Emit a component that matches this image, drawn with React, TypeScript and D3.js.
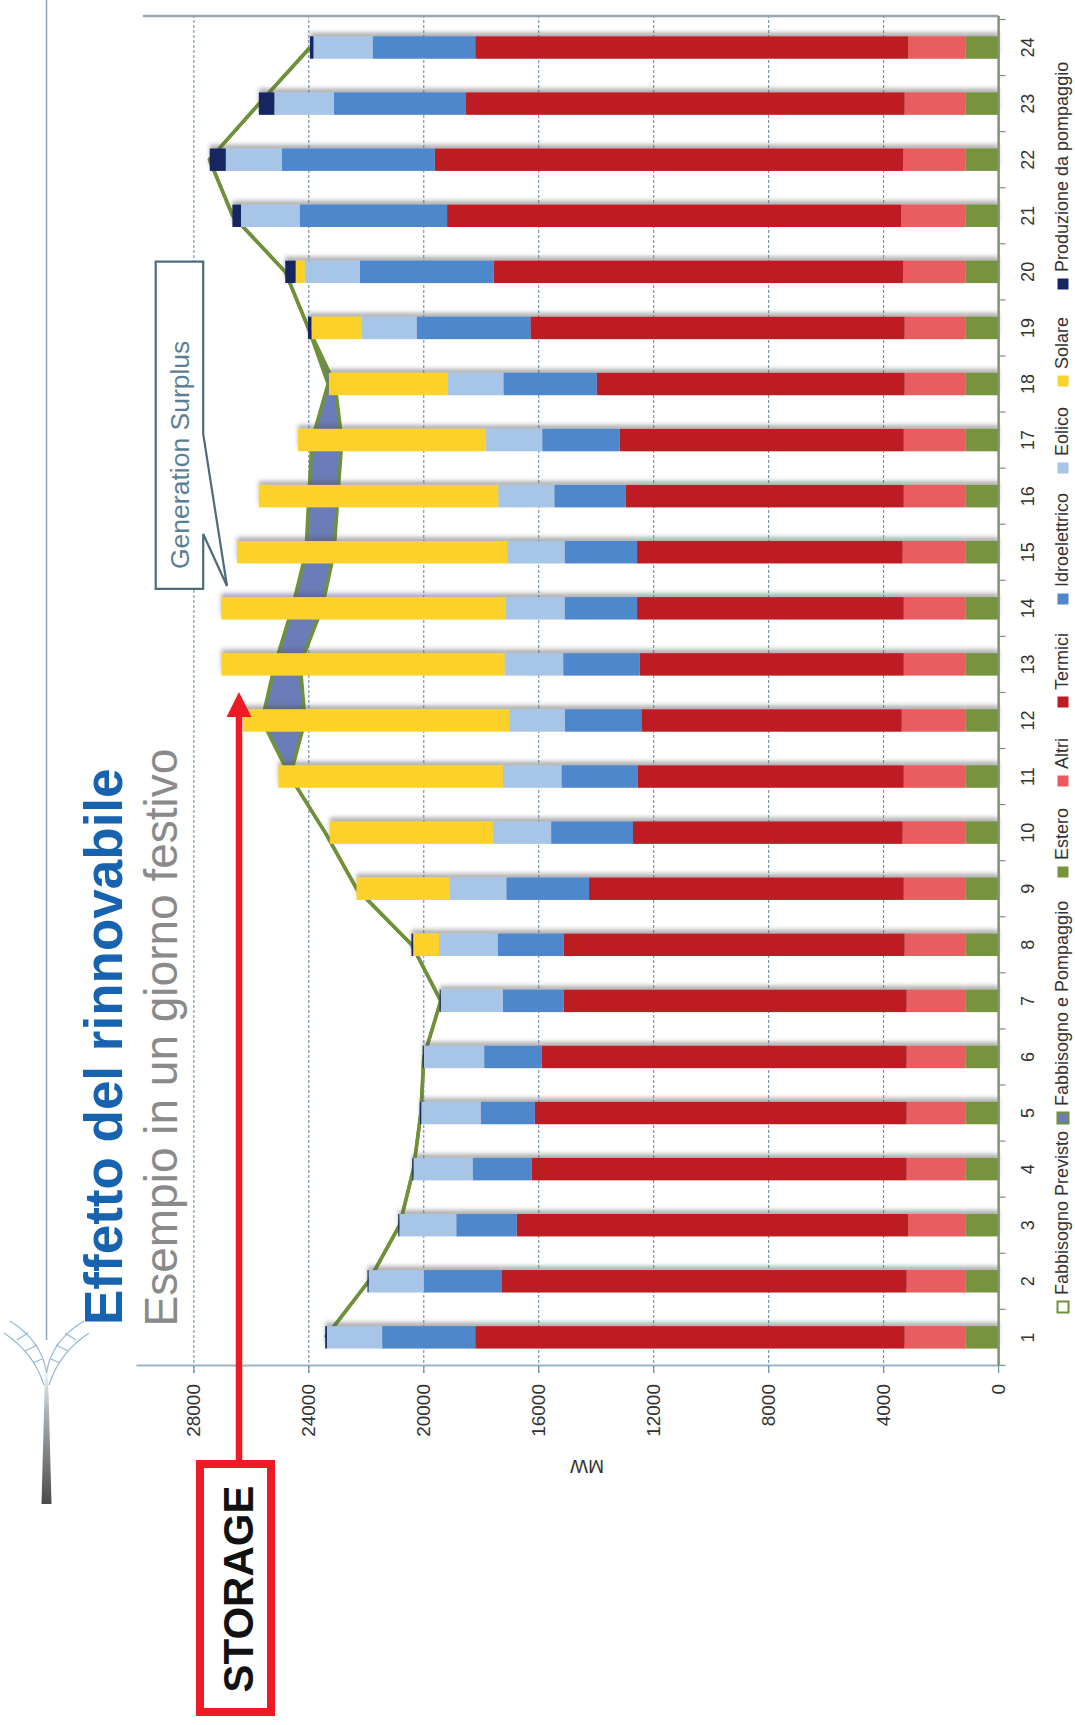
import React from "react";
import * as d3 from "d3";

// ore del giorno (categorie)
const hours = ["1", "2", "3", "4", "5", "6", "7", "8", "9", "10", "11", "12", "13", "14", "15", "16", "17", "18", "19", "20", "21", "22", "23", "24"];

// MW per fonte
const estero = [1150, 1150, 1150, 1150, 1150, 1150, 1150, 1150, 1150, 1150, 1150, 1150, 1150, 1150, 1150, 1150, 1150, 1150, 1150, 1150, 1150, 1150, 1150, 1150];
const altri = [2120, 2050, 2000, 2050, 2050, 2050, 2050, 2120, 2150, 2190, 2150, 2220, 2150, 2150, 2190, 2150, 2150, 2120, 2120, 2170, 2240, 2170, 2120, 2000];
const termici = [14940, 14100, 13620, 13040, 12940, 12700, 11930, 11860, 10950, 9380, 9250, 9060, 9190, 9280, 9240, 9680, 9880, 10710, 13020, 14250, 15800, 16300, 15280, 15060];
const idroelettrico = [3240, 2700, 2100, 2060, 1880, 2000, 2120, 2300, 2880, 2850, 2660, 2660, 2660, 2520, 2520, 2480, 2700, 3250, 3960, 4650, 5130, 5320, 4580, 3570];
const eolico = [1920, 1920, 1980, 2060, 2070, 2100, 2160, 2040, 1980, 2030, 2040, 1940, 2040, 2040, 2000, 1950, 1970, 1940, 1920, 1920, 2040, 1950, 2070, 2060];
const solare = [0, 0, 0, 0, 0, 0, 0, 900, 3230, 5670, 7810, 9260, 9850, 9910, 9400, 8330, 6530, 4130, 1740, 320, 0, 0, 0, 0];
const pompaggio = [60, 40, 40, 40, 40, 40, 40, 60, 0, 0, 0, 0, 0, 0, 0, 0, 0, 0, 120, 360, 300, 560, 540, 120];

const fabbisognoPrevisto = [23420, 21920, 20840, 20360, 20100, 20000, 19410, 20420, 22340, 23430, 24650, 24130, 24300, 23540, 23120, 22990, 22850, 23090, 24020, 24820, 26650, 27460, 25730, 23960];
const fabbisognoPompaggio = [23420, 21920, 20840, 20360, 20100, 20000, 19410, 20420, 22340, 23430, 24650, 25630, 25180, 24580, 24100, 24000, 23890, 23330, 24020, 24820, 26650, 27460, 25730, 23960];

const valueTicks = [0, 4000, 8000, 12000, 16000, 20000, 24000, 28000];

const seriesDefs = [
  { key: "estero", name: "Estero", color: "#77933c", values: estero },
  { key: "altri", name: "Altri", color: "#e95b5e", values: altri },
  { key: "termici", name: "Termici", color: "#bd1b21", values: termici },
  { key: "idro", name: "Idroelettrico", color: "#4f87cc", values: idroelettrico },
  { key: "eolico", name: "Eolico", color: "#a7c5e6", values: eolico },
  { key: "solare", name: "Solare", color: "#fcd22c", values: solare },
  { key: "pompaggio", name: "Produzione da pompaggio", color: "#172660", values: pompaggio },
];

const GREEN = "#6f9139";
const BAND = "#6a7db8";
const FONT = "'Liberation Sans', Arial, sans-serif";

// legend entries, in the order they appear
const legendItems = [
  { name: "Fabbisogno Previsto", fill: "#ffffff", stroke: GREEN, pos: 418 },
  { name: "Fabbisogno e Pompaggio", fill: BAND, stroke: GREEN, pos: 607 },
  { name: "Estero", fill: "#77933c", stroke: "none", pos: 853 },
  { name: "Altri", fill: "#e95b5e", stroke: "none", pos: 944 },
  { name: "Termici", fill: "#bd1b21", stroke: "none", pos: 1023 },
  { name: "Idroelettrico", fill: "#4f87cc", stroke: "none", pos: 1126 },
  { name: "Eolico", fill: "#a7c5e6", stroke: "none", pos: 1257 },
  { name: "Solare", fill: "#fcd22c", stroke: "none", pos: 1344 },
  { name: "Produzione da pompaggio", fill: "#172660", stroke: "none", pos: 1441 },
];

export default function App() {
  const W = 1075;
  const H = 1725;

  // the slide is drawn upright and then turned a quarter turn counter-clockwise
  const plotLeft = 359.6;
  const plotRight = 1709;
  const x = d3.scaleBand<string>().domain(hours).range([plotLeft, 1705.5]).paddingInner(0.6).paddingOuter(0.3);
  const y = d3.scaleLinear().domain([0, 30000]).range([998.6, 136.4]);
  const cx = (h: string) => (x(h) ?? 0) + x.bandwidth() / 2;

  const rows = hours.map((h, i) => {
    const r: any = { hour: h };
    seriesDefs.forEach((s) => (r[s.key] = s.values[i]));
    return r;
  });
  const stacked = d3.stack<any>().keys(seriesDefs.map((s) => s.key))(rows);

  const demand = hours.map((h, i) => ({ h, fp: fabbisognoPrevisto[i], fpp: fabbisognoPompaggio[i] }));
  const bandArea = d3.area<any>().x((d) => cx(d.h)).y0((d) => y(d.fp)).y1((d) => y(d.fpp));
  const lineFP = d3.line<any>().x((d) => cx(d.h)).y((d) => y(d.fp));
  const lineFPP = d3.line<any>().x((d) => cx(d.h)).y((d) => y(d.fpp));

  const catTicks = d3.range(hours.length + 1).map((k) => x.range()[0] + k * x.step());

  return (
    <svg width={W} height={H} style={{ position: "absolute", left: 0, top: 0, display: "block", background: "#fff" }} fontFamily={FONT}>
      <defs>
        <filter id="barShadow" x="-10%" y="-20%" width="130%" height="140%">
          <feDropShadow dx="4" dy="0" stdDeviation="2" floodColor="#555" floodOpacity="0.45" />
        </filter>
        <linearGradient id="trunk" x1="0" x2="1" y1="0" y2="0">
          <stop offset="0" stopColor="#4a4a4a" />
          <stop offset="0.7" stopColor="#a9b2b8" />
          <stop offset="1" stopColor="#eef3f6" />
        </linearGradient>
      </defs>
      <g transform={`translate(0,${H}) rotate(-90)`}>
        {/* slide decoration */}
        <line x1={385} x2={1725} y1={46.5} y2={46.5} stroke="#8aa5b8" strokeWidth={1.5} />
        <polygon points="352,45 352,48 221,51.5 221,41.5" fill="url(#trunk)" />
        <g fill="none" stroke="#93b8d4" strokeWidth={1.2}>
          <path d="M352,46.5 Q384,42 404,10" />
          <path d="M352,46.5 Q384,51 404,84" />
          <path d="M340,44 Q372,34 392,4" />
          <path d="M340,49 Q372,59 392,89" />
          <path d="M366,42 L362,33 M380,37 L374,25 M392,28 L385,17" />
          <path d="M366,51 L362,60 M380,56 L374,68 M392,65 L385,76" />
        </g>

        <text x={400} y={122} fontSize={53} fontWeight="bold" fill="#1763b0">Effetto del rinnovabile</text>
        <text x={398.5} y={177} fontSize={46} fill="#8a8a8a">Esempio in un giorno festivo</text>

        {/* grid */}
        {valueTicks.slice(1).map((t) => (
          <line key={"g" + t} x1={352} x2={plotRight} y1={y(t)} y2={y(t)} stroke="#3f6e8c" strokeWidth={1} strokeDasharray="3,2" opacity={0.85} />
        ))}

        {/* fabbisogno */}
        <path d={bandArea(demand) ?? ""} fill={BAND} />
        <path d={lineFPP(demand) ?? ""} fill="none" stroke={GREEN} strokeWidth={3.5} strokeLinejoin="round" />
        <path d={lineFP(demand) ?? ""} fill="none" stroke={GREEN} strokeWidth={3.5} strokeLinejoin="round" />

        {/* bars */}
        <g filter="url(#barShadow)">
          {stacked.map((layer, si) =>
            layer.map((d, i) =>
              d[1] - d[0] > 0 ? (
                <rect
                  key={seriesDefs[si].key + i}
                  x={x(hours[i])}
                  width={x.bandwidth()}
                  y={y(d[1])}
                  height={y(d[0]) - y(d[1])}
                  fill={seriesDefs[si].color}
                />
              ) : null
            )
          )}
        </g>

        {/* axes */}
        <line x1={plotLeft} x2={plotLeft} y1={y(30000)} y2={y(0)} stroke="#9cb4c4" strokeWidth={2} />
        {valueTicks.map((t) => (
          <line key={"t" + t} x1={352} x2={plotLeft} y1={y(t)} y2={y(t)} stroke="#6f93a8" strokeWidth={1.2} />
        ))}
        <line x1={plotRight} x2={plotRight} y1={143} y2={y(0)} stroke="#9aa6ae" strokeWidth={2.5} />
        <line x1={plotLeft} x2={plotRight} y1={y(0)} y2={y(0)} stroke="#7f9274" strokeWidth={2.5} />
        {catTicks.map((c, i) => (
          <line key={"c" + i} x1={c} x2={c} y1={y(0)} y2={y(0) + 7} stroke="#7f9274" strokeWidth={1.2} />
        ))}
        {valueTicks.map((t) => (
          <text key={"l" + t} x={341} y={y(t)} fontSize={19} fill="#333" textAnchor="end" dominantBaseline="central">
            {t}
          </text>
        ))}
        {hours.map((h) => (
          <text key={"h" + h} x={cx(h)} y={1034} fontSize={18} fill="#333" textAnchor="middle">
            {h}
          </text>
        ))}
        <text transform="translate(259,587) rotate(-90)" fontSize={19} fill="#333" textAnchor="middle" dominantBaseline="central">
          MW
        </text>

        {/* legend */}
        {legendItems.map((it) => (
          <g key={it.name}>
            <rect x={it.pos - 5.5} y={1057.5} width={11} height={11} fill={it.fill} stroke={it.stroke} strokeWidth={it.stroke === "none" ? 0 : 2} />
            <text x={it.pos + 12} y={1068} fontSize={18} fill="#333">
              {it.name}
            </text>
          </g>
        ))}

        {/* callout */}
        <path
          d="M1136.2,155.7 L1463.3,155.7 L1463.3,203.2 L1291,203.2 L1139,227 L1191,203.2 L1136.2,203.2 Z"
          fill="#fff"
          stroke="#4d6b7c"
          strokeWidth={2.2}
          strokeLinejoin="miter"
        />
        <text x={1156} y={189} fontSize={26.5} fill="#5a7f95">Generation Surplus</text>

        {/* storage */}
        <line x1={265} x2={1010} y1={239} y2={239} stroke="#ed1c24" strokeWidth={6.5} />
        <polygon points="1033,239 1008,226.5 1008,251.5" fill="#ed1c24" />
        <rect x={13} y={200} width={248} height={71} fill="#fff" stroke="#ed1c24" strokeWidth={8} />
        <text x={136} y={253} fontSize={42} fontWeight="bold" fill="#111" textAnchor="middle">STORAGE</text>
      </g>
    </svg>
  );
}
